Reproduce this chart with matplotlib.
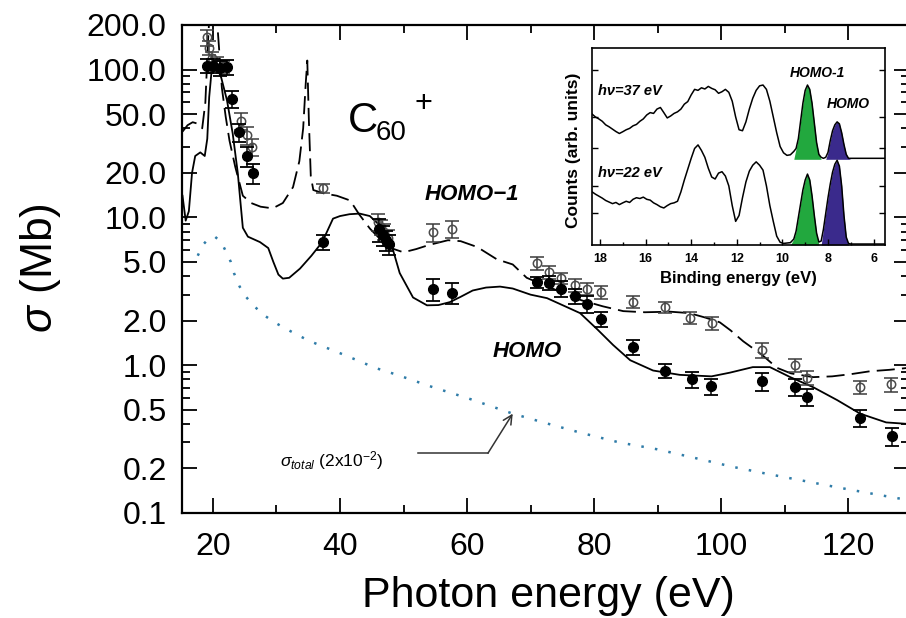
import matplotlib
matplotlib.use("Agg")
import numpy as np
import matplotlib.pyplot as plt
from matplotlib.ticker import FixedLocator, FixedFormatter, NullFormatter

plt.rcParams['font.family'] = ['Liberation Sans', 'DejaVu Sans']
plt.rcParams['mathtext.fontset'] = 'custom'
plt.rcParams['mathtext.rm'] = 'Liberation Sans'
plt.rcParams['mathtext.it'] = 'Liberation Sans:italic'
plt.rcParams['mathtext.bf'] = 'Liberation Sans:bold'

# ---------------- measured partial cross sections (Mb) ----------------
homo_e = [19.1, 20.0, 21.1, 22.2, 23.0, 24.1, 25.3, 26.3, 37.3, 46.2, 46.7, 47.2, 47.7,
          54.6, 57.6, 71.0, 72.9, 74.8, 77.0, 78.9, 81.1, 86.1, 91.2, 95.4, 98.4,
          106.5, 111.7, 113.5, 121.9, 126.9]
homo_sigma = [106, 106, 103, 104, 63, 37.5, 26, 19.8, 6.8, 8.3, 7.6, 7.0, 6.6,
              3.25, 3.1, 3.65, 3.6, 3.3, 2.95, 2.6, 2.05, 1.32, 0.92, 0.80, 0.72,
              0.78, 0.71, 0.61, 0.44, 0.33]
homo_err = [12, 12, 12, 12, 8, 5, 4, 3, 0.8, 1.5, 1.2, 1.1, 1.0,
            0.55, 0.5, 0.3, 0.4, 0.4, 0.35, 0.35, 0.25, 0.15, 0.1, 0.1, 0.09,
            0.11, 0.09, 0.08, 0.06, 0.045]

homo1_e = [19.0, 19.4, 19.9, 20.6, 21.5, 24.4, 25.3, 26.1, 37.3, 46.0, 46.5, 47.0, 47.6,
           54.6, 57.6, 71.0, 72.9, 74.8, 77.0, 78.9, 81.1, 86.1, 91.2, 95.1, 98.6,
           106.5, 111.7, 113.5, 121.9, 126.8]
homo1_sigma = [165, 140, 120, 110, 105, 45, 36, 30, 15.7, 9.3, 8.6, 8.0, 7.3,
               7.9, 8.3, 4.9, 4.25, 3.87, 3.47, 3.3, 3.11, 2.67, 2.46, 2.1, 1.92,
               1.26, 1.0, 0.82, 0.71, 0.74]
homo1_err = [20, 15, 12, 12, 10, 6, 5, 4, 1.2, 1.2, 1.0, 1.0, 0.9,
             1.1, 1.1, 0.5, 0.4, 0.35, 0.35, 0.3, 0.3, 0.25, 0.22, 0.2, 0.2,
             0.15, 0.1, 0.09, 0.07, 0.08]

# ---------------- calculated curves ----------------
homo_theory_e = [15.2, 15.7, 16.2, 16.7, 17.2, 18.0, 18.7, 19.1, 19.4, 19.8,
                 20.5, 21.3, 22.2, 23.1, 23.9, 24.3, 24.7, 25.5, 27.4, 28.7,
                 29.5, 30.3, 31.0, 32.0, 33.7, 35.5, 37.2, 38.9, 40.0, 41.5,
                 43.1, 44.7, 46.3, 47.9, 49.4, 51.5, 53.7, 55.5, 57.3, 59.0,
                 60.9, 63.0, 65.2, 67.2, 70.0, 72.6, 75.1, 77.8, 80.5, 83.0,
                 85.7, 89.3, 93.5, 98.5, 101.4, 105.0, 107.7, 110.9, 114.5, 118.3,
                 121.9, 126.0, 129.6]
homo_theory = [14, 9.5, 11, 20, 26, 27.5, 26, 34, 65, 100,
               106, 88, 62, 37, 20, 13, 8.5, 7.4, 6.8, 6.2,
               5.0, 4.1, 3.85, 3.9, 4.5, 5.5, 6.8, 9.8, 10.2, 10.5,
               10.6, 10.2, 8.8, 7.0, 4.2, 2.87, 2.54, 2.55, 2.67, 2.9,
               3.2, 3.35, 3.4, 3.3, 3.0, 2.84, 2.54, 2.25, 1.75, 1.37,
               1.08, 0.92, 0.86, 0.84, 0.89, 0.97, 0.97, 0.83, 0.71, 0.58,
               0.47, 0.41, 0.40]

homo1_theory_e = [15.2, 16.0, 16.8, 17.6, 18.3, 18.8, 19.2, 19.5, 20.5, 20.9,
                  21.4, 22.0, 22.6, 23.5, 24.7, 26.0, 27.5, 29.4, 31.0, 32.6,
                  33.6, 34.2, 34.6, 34.85, 35.1, 35.4, 35.8, 37.5, 39.5, 41.6,
                  43.0, 44.7, 46.5, 48.0, 50.0, 52.0, 54.0, 57.0, 59.0, 61.6,
                  64.7, 67.2, 69.4, 72.0, 75.0, 78.0, 81.4, 84.6, 88.0, 92.0,
                  95.0, 97.5, 99.8, 101.5, 103.5, 106.5, 108.8, 111.0, 114.5, 117.5,
                  120.5, 123.5, 126.5, 129.6]
homo1_theory = [38, 42, 44, 43, 40, 60, 150, 260, 260, 150,
                75, 48, 33, 22, 14, 12.5, 11.8, 11.5, 12.5, 16,
                24, 40, 80, 115, 45, 19, 15.3, 14.5, 14, 13,
                10.5, 8.4, 7.0, 6.2, 5.8, 6.1, 6.5, 7.0, 6.9, 6.3,
                5.2, 4.8, 3.9, 3.5, 3.1, 2.75, 2.5, 2.32, 2.28, 2.3,
                2.25, 2.1, 1.95, 1.72, 1.45, 1.17, 0.96, 0.88, 0.83, 0.84,
                0.87, 0.91, 0.93, 0.96]

# total cross section, already multiplied by 2x10^-2
total_e = [17.6, 18.4, 19.2, 20.3, 21.3, 22.1, 22.8, 23.3, 24.2, 25.2,
           26.3, 27.9, 29.5, 31.3, 33.1, 35.0, 36.9, 38.9, 42.7, 45.5,
           49.0, 54.6, 60.0, 67.2, 72.0, 77.8, 84.0, 89.9, 96.0, 101.9,
           107.0, 112.4, 118.0, 123.0, 129.6]
total_scaled = [5.5, 6.5, 7.1, 7.4, 6.8, 5.8, 5.0, 4.2, 3.4, 2.9,
                2.55, 2.2, 1.97, 1.78, 1.62, 1.47, 1.36, 1.26, 1.08, 0.96,
                0.86, 0.71, 0.60, 0.47, 0.41, 0.35, 0.30, 0.27, 0.235, 0.205,
                0.185, 0.167, 0.15, 0.137, 0.122]

ytick_values = [0.1, 0.2, 0.5, 1, 2, 5, 10, 20, 50, 100, 200]
ytick_labels = ['0.1', '0.2', '0.5', '1.0', '2.0', '5.0', '10.0', '20.0', '50.0', '100.0', '200.0']
xtick_values = [20, 40, 60, 80, 100, 120]

# ---------------- photoelectron spectra (inset) ----------------
inset_be = [18.35, 18.2, 18.05, 17.9, 17.75, 17.6, 17.45, 17.3, 17.15, 17.0,
            16.85, 16.7, 16.55, 16.4, 16.25, 16.1, 15.95, 15.8, 15.65, 15.5,
            15.35, 15.2, 15.05, 14.9, 14.75, 14.6, 14.45, 14.3, 14.15, 14.0,
            13.85, 13.7, 13.55, 13.4, 13.25, 13.1, 12.95, 12.8, 12.65, 12.5,
            12.35, 12.2, 12.05, 11.9, 11.75, 11.6, 11.45, 11.3, 11.15, 11.0,
            10.85, 10.7, 10.55, 10.4, 10.25, 10.1, 9.95, 9.8, 9.65, 9.5,
            9.4, 9.3, 9.2, 9.1, 9.0, 8.9, 8.8, 8.7, 8.6, 8.5,
            8.4, 8.3, 8.2, 8.1, 8.0, 7.9, 7.8, 7.7, 7.6, 7.5,
            7.4, 7.3, 7.2, 7.1, 7.0, 6.5, 6.0, 5.5]
counts_37 = [0.665, 0.650, 0.640, 0.628, 0.610, 0.600, 0.588, 0.576, 0.566, 0.575,
             0.585, 0.592, 0.605, 0.612, 0.628, 0.640, 0.660, 0.672, 0.668, 0.690,
             0.698, 0.672, 0.645, 0.655, 0.668, 0.676, 0.690, 0.715, 0.728, 0.762,
             0.790, 0.785, 0.798, 0.792, 0.805, 0.795, 0.788, 0.770, 0.778, 0.790,
             0.775, 0.730, 0.650, 0.585, 0.580, 0.625, 0.690, 0.745, 0.785, 0.808,
             0.812, 0.790, 0.730, 0.650, 0.570, 0.500, 0.468, 0.455, 0.458, 0.475,
             0.49, 0.54, 0.63, 0.72, 0.785, 0.812, 0.79, 0.72, 0.62, 0.52,
             0.46, 0.445, 0.44, 0.445, 0.47, 0.53, 0.58, 0.61, 0.625, 0.615,
             0.57, 0.51, 0.46, 0.44, 0.44, 0.44, 0.44, 0.44]
counts_22 = [0.27, 0.258, 0.248, 0.238, 0.226, 0.218, 0.21, 0.216, 0.205, 0.214,
             0.222, 0.216, 0.232, 0.240, 0.236, 0.243, 0.232, 0.228, 0.214, 0.205,
             0.194, 0.188, 0.200, 0.210, 0.214, 0.222, 0.27, 0.33, 0.385, 0.44,
             0.49, 0.508, 0.48, 0.445, 0.39, 0.345, 0.335, 0.365, 0.372, 0.35,
             0.30, 0.20, 0.12, 0.15, 0.24, 0.32, 0.375, 0.405, 0.422, 0.405,
             0.38, 0.30, 0.20, 0.12, 0.045, 0.014, 0.008, 0.01, 0.012, 0.03,
             0.07, 0.14, 0.21, 0.28, 0.33, 0.36, 0.33, 0.25, 0.15, 0.06,
             0.015, 0.02, 0.08, 0.16, 0.24, 0.31, 0.37, 0.41, 0.43, 0.40,
             0.30, 0.15, 0.04, 0.008, 0.005, 0.005, 0.005, 0.005]
base_37 = 0.435
base_22 = 0.0
homo1_band_37 = (8.35, 9.45)
homo_band_37 = (7.1, 8.05)
homo1_band_22 = (8.45, 9.5)
homo_band_22 = (7.15, 8.2)
inset_xticks = [18, 16, 14, 12, 10, 8, 6]

GREEN = '#22a83e'
PURPLE = '#3a2a8c'
W, H = 906, 618


def fx(px):
    return px / W


def fy(py):
    return 1 - py / H


fig = plt.figure(figsize=(W / 100, H / 100), dpi=100)
fig.patch.set_facecolor('white')

# main axes
ax = fig.add_axes([fx(182), fy(513), (909 - 182) / W, (513 - 25) / H])
ax.set_yscale('log')
ax.set_xlim(15.12, 129.6)
ax.set_ylim(0.1, 200)

ax.plot(total_e, total_scaled, color='#2f7ca8', lw=1.8, linestyle=(0, (1, 4.5)))
ax.plot(homo_theory_e, homo_theory, color='black', lw=1.3)
ax.plot(homo1_theory_e, homo1_theory, color='black', lw=1.3, dashes=(10, 4))

ax.errorbar(homo1_e, homo1_sigma, yerr=homo1_err, fmt='o', ms=6, mfc='none',
            mec='#4a4a4a', mew=1.1, ecolor='#3a3a3a', elinewidth=1.1,
            capsize=5, capthick=1.3, zorder=4)
ax.errorbar(homo_e, homo_sigma, yerr=homo_err, fmt='o', ms=7, color='black',
            ecolor='black', elinewidth=1.1, capsize=5, capthick=1.3, zorder=5)

# axis styling
for sp in ax.spines.values():
    sp.set_linewidth(1.6)
ax.yaxis.set_major_locator(FixedLocator(ytick_values))
ax.yaxis.set_major_formatter(FixedFormatter(ytick_labels))
yminor = [k * d for d in (0.1, 1, 10, 100) for k in (3, 4, 6, 7, 8, 9) if k * d < 200]
ax.yaxis.set_minor_locator(FixedLocator(yminor))
ax.yaxis.set_minor_formatter(NullFormatter())
ax.xaxis.set_major_locator(FixedLocator(xtick_values))
ax.xaxis.set_minor_locator(FixedLocator([30, 50, 70, 90, 110, 130]))
ax.tick_params(which='both', direction='in', top=True, right=True, width=1.3)
ax.tick_params(which='major', length=11)
ax.tick_params(which='minor', length=5.5)
ax.tick_params(axis='y', which='major', labelsize=23, pad=11)
ax.tick_params(axis='x', which='major', labelsize=23, pad=14)

ax.set_xlabel('Photon energy (eV)', fontsize=31)
ax.xaxis.label.set_va('baseline')
ax.xaxis.set_label_coords((548 - 182) / 727, (513 - 607) / 488)
ax.set_ylabel(r'$\sigma$ (Mb)', fontsize=32)
ax.yaxis.set_label_coords((63 - 182) / 727, (513 - 268) / 488)

# labels inside the main panel
fig.text(fx(348), fy(132), 'C', fontsize=30, va='baseline', ha='left')
fig.text(fx(376), fy(140), '60', fontsize=20, va='baseline', ha='left')
fig.text(fx(415), fy(112), '+', fontsize=22, va='baseline', ha='left')
fig.text(fx(425), fy(200), 'HOMO\u22121', fontsize=16, style='italic',
         weight='bold', va='baseline', ha='left')
fig.text(fx(493), fy(357), 'HOMO', fontsize=16, style='italic',
         weight='bold', va='baseline', ha='left')
fig.text(fx(280), fy(466), r'$\sigma_{total}$ (2x10$^{-2}$)', fontsize=12.5,
         va='baseline', ha='left')

# arrow from the label to the scaled total cross section
ax.plot([52.3, 63.3], [0.254, 0.254], color='#333333', lw=1.1)
ax.annotate('', xy=(67.2, 0.47), xytext=(63.3, 0.254),
            arrowprops=dict(arrowstyle='->', color='#333333', lw=1.1,
                            mutation_scale=16, shrinkA=0, shrinkB=0))

# inset with the photoelectron spectra
ins = fig.add_axes([fx(592), fy(245), (885 - 592) / W, (245 - 48) / H])
ins.set_facecolor('white')
ins.set_xlim(18.35, 5.5)
ins.set_ylim(0, 1)
be = np.array(inset_be)
c37 = np.array(counts_37)
c22 = np.array(counts_22)
for lo, hi, col in ((homo1_band_37[0], homo1_band_37[1], GREEN),
                    (homo_band_37[0], homo_band_37[1], PURPLE)):
    ins.fill_between(be, base_37, c37, where=(be >= lo) & (be <= hi),
                     color=col, interpolate=True, lw=0)
for lo, hi, col in ((homo1_band_22[0], homo1_band_22[1], GREEN),
                    (homo_band_22[0], homo_band_22[1], PURPLE)):
    ins.fill_between(be, base_22, c22, where=(be >= lo) & (be <= hi),
                     color=col, interpolate=True, lw=0)
ins.plot(be, c37, color='black', lw=1.1)
ins.plot(be, c22, color='black', lw=1.1)

for sp in ins.spines.values():
    sp.set_linewidth(1.2)
ins.xaxis.set_major_locator(FixedLocator(inset_xticks))
ins.xaxis.set_minor_locator(FixedLocator([17, 15, 13, 11, 9, 7]))
ins.yaxis.set_major_locator(FixedLocator([0.16, 0.30, 0.49, 0.65, 0.89]))
ins.yaxis.set_major_formatter(NullFormatter())
ins.tick_params(which='both', direction='in', right=True, width=1.0)
ins.tick_params(which='major', length=4)
ins.tick_params(which='minor', length=2.5)
ins.tick_params(axis='x', labelsize=9, pad=6)
for lab in ins.get_xticklabels():
    lab.set_fontweight('bold')
ins.set_xlabel('Binding energy (eV)', fontsize=12, fontweight='bold')
ins.xaxis.label.set_va('baseline')
ins.xaxis.set_label_coords((738 - 592) / 293, (245 - 283) / 197)
ins.set_ylabel('Counts (arb. units)', fontsize=12.5, fontweight='bold')
ins.yaxis.set_label_coords((581 - 592) / 293, (245 - 150) / 197)

fig.text(fx(598), fy(95), 'h\u03bd=37 eV', fontsize=10.5, style='italic',
         weight='bold', va='baseline', ha='left')
fig.text(fx(598), fy(177), 'h\u03bd=22 eV', fontsize=10.5, style='italic',
         weight='bold', va='baseline', ha='left')
fig.text(fx(790), fy(77), 'HOMO-1', fontsize=10, style='italic',
         weight='bold', va='baseline', ha='left')
fig.text(fx(827), fy(108), 'HOMO', fontsize=10, style='italic',
         weight='bold', va='baseline', ha='left')

fig.savefig('out.png', dpi=100, facecolor='white')
